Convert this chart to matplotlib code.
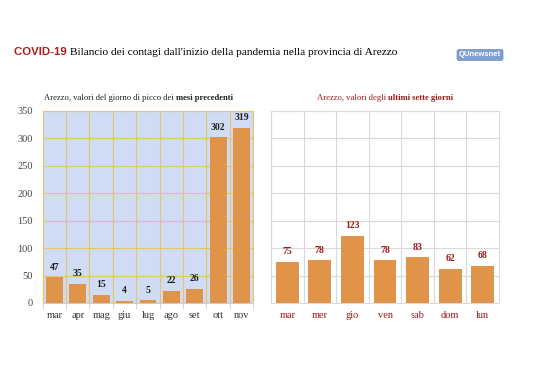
import matplotlib
matplotlib.use("Agg")
import matplotlib.pyplot as plt
import numpy as np

# dati
mesi = ["mar", "apr", "mag", "giu", "lug", "ago", "set", "ott", "nov"]
picchi = [47, 35, 15, 4, 5, 22, 26, 302, 319]
giorni = ["mar", "mer", "gio", "ven", "sab", "dom", "lun"]
ultimi = [75, 78, 123, 78, 83, 62, 68]
yticks = [0, 50, 100, 150, 200, 250, 300, 350]

SERIF = ["Liberation Serif", "DejaVu Serif"]
BAR = "#e0944a"
RED = "#a01818"

fig = plt.figure(figsize=(5.38, 3.80), dpi=100, facecolor="white")


def write_parts(parts, x, y, center=False, size=7):
    # pezzi di testo con stili diversi, uno dopo l'altro
    fig.canvas.draw()
    r = fig.canvas.get_renderer()
    texts = []
    cur = x
    for s, kw in parts:
        t = fig.text(cur, y, s, transform=None, va="baseline", size=size, **kw)
        w = t.get_window_extent(r).width
        texts.append(t)
        cur += w
    if center:
        total = cur - x
        for t in texts:
            px, py = t.get_position()
            t.set_position((px - total / 2, py))
    return texts


H = 380
# titolo
write_parts([("COVID-19 ", dict(family=["Liberation Sans", "DejaVu Sans"], weight="bold", color="#b01c1c")),
             ("Bilancio dei contagi dall'inizio della pandemia nella provincia di Arezzo", dict(family=SERIF, color="black"))],
            14, H - 55, size=8.2)

# logo
fig.text(480 / 538, 1 - 55 / 380, "QU" + "news" + "net", ha="center", va="center", size=5.5,
         color="white", weight="bold", family=["Liberation Sans", "DejaVu Sans"],
         bbox=dict(boxstyle="round,pad=0.25", fc="#7f9fcf", ec="#6a88bb", lw=0.5))

# grafico sinistro
ax1 = fig.add_axes([42.7 / 538, 1 - 303 / 380, 210.5 / 538, 192 / 380])
ax1.set_facecolor("#cfdcf3")
x1 = np.arange(len(mesi))
ax1.bar(x1, picchi, width=0.72, color=BAR, zorder=3)
ax1.set_xlim(-0.5, len(mesi) - 0.5)
ax1.set_ylim(0, 350)
ax1.set_yticks(yticks)
ax1.set_xticks(x1)
ax1.set_xticklabels(mesi, family=SERIF, size=7.5, color="#333333")
ax1.set_xticks(np.arange(-0.5, len(mesi)), minor=True)
ax1.grid(True, which="minor", axis="x", color="#e6c66a", lw=0.8, zorder=1)
ax1.grid(True, which="major", axis="y", color="#e6c66a", lw=0.8, zorder=1)
ax1.tick_params(axis="x", which="major", length=0, pad=6)
ax1.tick_params(axis="x", which="minor", length=4, color="#cccccc")
ax1.tick_params(axis="y", length=0, pad=7, labelsize=7.5, labelcolor="#444444")
for lab in ax1.get_yticklabels():
    lab.set_family(SERIF)
for s in ax1.spines.values():
    s.set_color("#e6c66a")
    s.set_linewidth(0.8)
ax1.spines["bottom"].set_color("#cccccc")
for xi, v in zip(x1, picchi):
    ax1.annotate(str(v), (xi, v), xytext=(0, 4), textcoords="offset points", ha="center",
                 va="bottom", size=7, weight="bold", family=SERIF, color="#222222")

# grafico destro
ax2 = fig.add_axes([271 / 538, 1 - 303 / 380, 228 / 538, 192 / 380])
ax2.set_facecolor("white")
x2 = np.arange(len(giorni))
ax2.bar(x2, ultimi, width=0.7, color=BAR, zorder=3)
ax2.set_xlim(-0.5, len(giorni) - 0.5)
ax2.set_ylim(0, 350)
ax2.set_yticks(yticks)
ax2.set_yticklabels([])
ax2.set_xticks(x2)
ax2.set_xticklabels(giorni, family=SERIF, size=7.5, color=RED)
ax2.set_xticks(np.arange(-0.5, len(giorni)), minor=True)
ax2.grid(True, which="minor", axis="x", color="#d9d9d9", lw=0.8, zorder=1)
ax2.grid(True, which="major", axis="y", color="#d9d9d9", lw=0.8, zorder=1)
ax2.tick_params(axis="x", which="major", length=0, pad=6)
ax2.tick_params(axis="x", which="minor", length=0)
ax2.tick_params(axis="y", length=0)
for s in ax2.spines.values():
    s.set_color("#d9d9d9")
    s.set_linewidth(0.8)
for xi, v in zip(x2, ultimi):
    ax2.annotate(str(v), (xi, v), xytext=(0, 4), textcoords="offset points", ha="center",
                 va="bottom", size=7, weight="bold", family=SERIF, color=RED)

# sottotitoli
write_parts([("Arezzo, valori del giorno di picco dei ", dict(family=SERIF, color="#222222")),
             ("mesi precedenti", dict(family=SERIF, weight="bold", color="#222222"))],
            139, H - 100, center=True, size=6.2)
write_parts([("Arezzo, valori degli ", dict(family=SERIF, color=RED)),
             ("ultimi sette giorni", dict(family=SERIF, weight="bold", color=RED))],
            385, H - 100, center=True, size=6.2)

fig.savefig("out.png", dpi=100, facecolor="white")
